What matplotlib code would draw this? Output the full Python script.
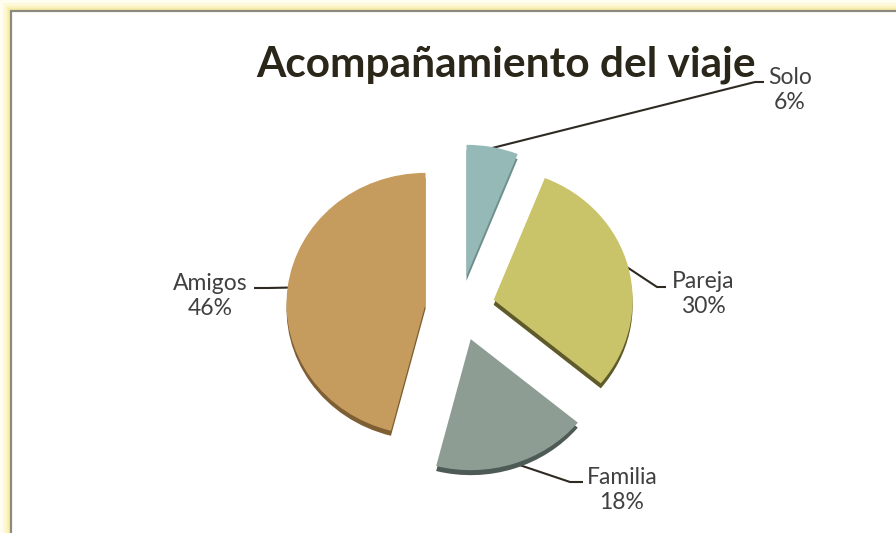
import numpy as np
import matplotlib.pyplot as plt
from matplotlib.patches import Rectangle

# data
categories = ["Solo", "Pareja", "Familia", "Amigos"]
shares = [6, 30, 18, 46]
face_colors = ["#95B9B7", "#C9C36A", "#8D9D94", "#C69C5E"]
side_colors = ["#6F8F8D", "#5E5A2A", "#4E5A55", "#7D5F33"]
title = "Acompañamiento del viaje"

# layout (pixels, origin top-left)
W, H = 896, 533
cx, cy = 460, 308          # pie centre
rx, ry = 139, 131          # slightly squashed, like the 3-D tilt
explode = 0.25
depth = 5                  # px of side wall under each slice
label_xy = {"Solo": (790, 90), "Pareja": (703, 294),
            "Familia": (622, 490), "Amigos": (210, 296)}
elbow = {"Solo": [(755, 82), (764, 82)], "Pareja": [(657, 287), (666, 287)],
         "Familia": [(570, 482), (583, 482)], "Amigos": [(268, 288), (254, 288)]}

fig = plt.figure(figsize=(W / 100, H / 100), dpi=100)
fig.patch.set_facecolor("white")

# background / frame
bg = fig.add_axes([0, 0, 1, 1])
bg.set_xlim(0, W)
bg.set_ylim(H, 0)
bg.axis("off")
bg.add_patch(Rectangle((0, 0), W, H, facecolor="#FFFDF0", edgecolor="none", zorder=0))
for k, c in enumerate(["#FDF9D8", "#FAF3C0", "#F6EDA8"]):
    off = 3 + 2.5 * k
    bg.add_patch(Rectangle((off, off), W, H, facecolor=c, edgecolor="none", zorder=0.1 + k * 0.01))
bg.add_patch(Rectangle((10.5, 10.5), W, H, facecolor="white", edgecolor="#8A8A80",
                       lw=1.6, zorder=0.5))

# pie axes in units of the radius
ax = fig.add_axes([0, 0, 1, 1])
ax.patch.set_alpha(0)

common = dict(startangle=90, counterclock=False, radius=1.0,
              explode=[explode] * len(shares))
ax.pie(shares, colors=side_colors, center=(0, -depth / ry),
       wedgeprops=dict(linewidth=0), **common)
wedges, _ = ax.pie(shares, colors=face_colors, center=(0, 0),
                   wedgeprops=dict(linewidth=0), **common)
ax.set_aspect("auto")
ax.set_xlim(-cx / rx, (W - cx) / rx)
ax.set_ylim(-(H - cy) / ry, cy / ry)
ax.axis("off")


def to_px(x, y):
    return cx + x * rx, cy - y * ry


for w, name, val in zip(wedges, categories, shares):
    mid = np.deg2rad((w.theta1 + w.theta2) / 2)
    ux, uy = np.cos(mid), np.sin(mid)
    sx, sy = to_px((1 + explode) * ux * 0.995, (1 + explode) * uy * 0.995)
    pts = [(sx, sy)] + elbow[name]
    bg.plot([p[0] for p in pts], [p[1] for p in pts], color="#2E2A22", lw=1.5,
            solid_capstyle="butt", zorder=5)
    lx, ly = label_xy[name]
    bg.text(lx, ly, f"{name}\n{val}%", ha="center", va="center", fontsize=16.5,
            family="Lato", color="#404040", linespacing=1.25, zorder=6)

bg.text(506, 77, title, ha="center", va="baseline", fontsize=30.5, fontweight="bold",
        family="Lato", color="#2A2619", zorder=6)

fig.savefig("out.png", dpi=100, facecolor=fig.get_facecolor())
